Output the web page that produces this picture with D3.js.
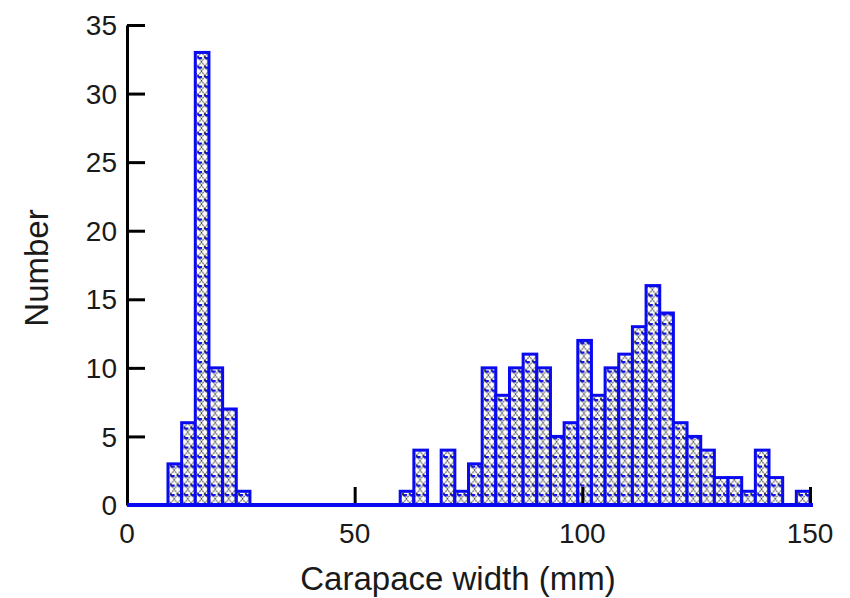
<!DOCTYPE html>
<html>
<head>
<meta charset="utf-8">
<script src="https://d3js.org/d3.v7.min.js"></script>
<style>
	body { margin:0; background:#fff; }
	text { font-family: Arial, "Liberation Sans", sans-serif; fill:#1a1a1a; }
</style>
</head>
<body>
<div id="chart"></div>
<script>
// histogram bins, 3 mm wide, left edge of each bin
var binWidth = 3;
var binStarts = d3.range(0, 150, binWidth);
var counts = [
	0,0,0,3,6,33,10,7,1,0,            // 0 - 27
	0,0,0,0,0,0,0,0,0,0,              // 30 - 57
	1,4,0,4,1,3,10,8,10,11,           // 60 - 87
	10,5,6,12,8,10,11,13,16,14,       // 90 - 117
	6,5,4,2,2,1,4,2,0,1               // 120 - 147
];
var xTicks = [0, 50, 100, 150];
var yTicks = [0, 5, 10, 15, 20, 25, 30, 35];

var width = 850, height = 598;

var svg = d3.select("#chart").append("svg")
	.attr("width", width)
	.attr("height", height);

var x = d3.scaleLinear().domain([0, 150]).range([127, 810]);
var y = d3.scaleLinear().domain([0, 35]).range([505, 25]);

// crosshatch fill
var defs = svg.append("defs");
var pat = defs.append("pattern")
	.attr("id", "hatch")
	.attr("patternUnits", "userSpaceOnUse")
	.attr("width", 6.83)
	.attr("height", 9.5);
pat.append("rect").attr("width", 6.83).attr("height", 9.5).attr("fill", "#fff");
pat.append("path")
	.attr("d", "M0,0L6.83,9.5M6.83,0L0,9.5")
	.attr("stroke", "#222")
	.attr("stroke-width", 1)
	.attr("stroke-dasharray", "1.6,0.9");
pat.append("path")
	.attr("d", "M0,1H4")
	.attr("stroke", "#1010e8")
	.attr("stroke-width", 2.5);

var data = binStarts.map(function(s, i){ return {x0: s, x1: s + binWidth, n: counts[i]}; });

svg.append("g").selectAll("rect")
	.data(data)
	.enter().append("rect")
	.attr("x", function(d){ return x(d.x0); })
	.attr("y", function(d){ return y(d.n); })
	.attr("width", function(d){ return x(d.x1) - x(d.x0); })
	.attr("height", function(d){ return y(0) - y(d.n); })
	.attr("fill", "url(#hatch)")
	.attr("stroke", "#0a0af0")
	.attr("stroke-width", 3);

// y axis, ticks inside
var yAxis = svg.append("g")
	.attr("transform", "translate(" + x(0) + ",0)")
	.call(d3.axisRight(y).tickValues(yTicks).tickSize(18).tickSizeOuter(0).tickFormat(""));
yAxis.select(".domain").attr("stroke", "#000").attr("stroke-width", 3);
yAxis.selectAll(".tick line").attr("stroke", "#000").attr("stroke-width", 3);

svg.append("g").selectAll("text")
	.data(yTicks)
	.enter().append("text")
	.attr("x", 117)
	.attr("y", function(d){ return y(d); })
	.attr("dy", "0.36em")
	.attr("text-anchor", "end")
	.style("font-size", "28px")
	.text(function(d){ return d; });

// x axis ticks pointing up
var xAxis = svg.append("g")
	.attr("transform", "translate(0," + y(0) + ")")
	.call(d3.axisTop(x).tickValues(xTicks).tickSize(18).tickSizeOuter(0).tickFormat(""));
xAxis.select(".domain").remove();
xAxis.selectAll(".tick line").attr("stroke", "#000").attr("stroke-width", 3);

svg.append("g").selectAll("text")
	.data(xTicks)
	.enter().append("text")
	.attr("x", function(d){ return x(d); })
	.attr("y", 543)
	.attr("text-anchor", "middle")
	.style("font-size", "28px")
	.text(function(d){ return d; });

// redraw baseline in blue over ticks
svg.append("line")
	.attr("x1", x(0)).attr("x2", x(150) + 3)
	.attr("y1", y(0)).attr("y2", y(0))
	.attr("stroke", "#0a0af0")
	.attr("stroke-width", 4);

svg.append("text")
	.attr("x", 458)
	.attr("y", 590)
	.attr("text-anchor", "middle")
	.style("font-size", "33px")
	.text("Carapace width (mm)");

svg.append("text")
	.attr("transform", "translate(48,268) rotate(-90)")
	.attr("text-anchor", "middle")
	.style("font-size", "33px")
	.text("Number");
</script>
</body>
</html>
